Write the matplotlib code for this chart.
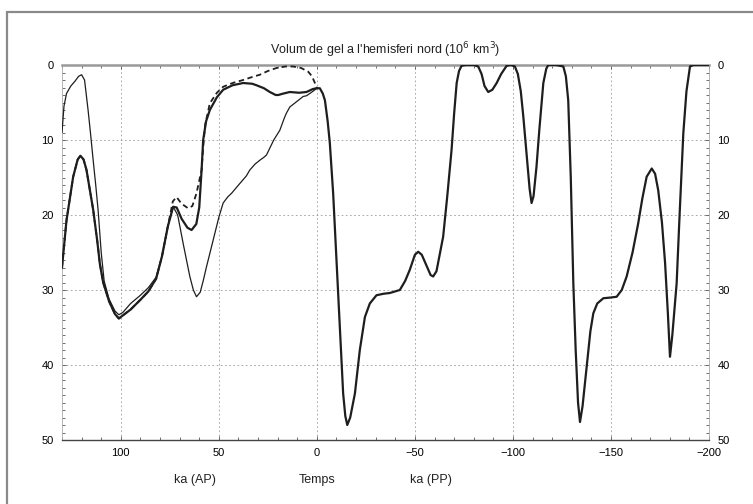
import matplotlib
matplotlib.use("Agg")
import matplotlib.pyplot as plt
from matplotlib.patches import Rectangle
from matplotlib.ticker import MultipleLocator

plt.rcParams['font.family'] = ['Liberation Sans Narrow', 'Liberation Sans', 'DejaVu Sans']

title = "Volum de gel a l'hemisferi nord (10$^6$ km$^3$)"
x_ticks = [100, 50, 0, -50, -100, -150, -200]
y_ticks = [0, 10, 20, 30, 40, 50]
extra_labels = ["ka (AP)", "Temps", "ka (PP)"]
extra_pos = [62, 0, -58]

# thick solid series (past + future), time in ka (positive = past)
thick_x = [130, 127.7, 124.3, 122, 120.6, 119, 117.5, 114.1, 112, 110.7, 109, 106, 103, 101, 99, 95, 90, 86, 82,
           79, 76, 73.3, 71.5, 69, 66, 63.9, 61.5, 60, 58.8, 58, 56.5, 54.6, 51, 47.8, 43, 37.6, 33, 30.8, 27,
           24, 21, 19.7, 17, 13.8, 9, 5.3, 2, 0,
           -1.5, -3, -4.1, -5.5, -6.6, -8.3, -10, -11.7, -13.4, -14.5, -15.5, -17, -19.4, -21.9, -24.5, -27,
           -30.4, -34, -37.2, -42.3, -45, -47.4, -50, -51.7, -53.5, -56, -58, -59.3, -61, -62.5, -64.4, -66.5,
           -68.7, -70, -71.3, -72.5, -73.8, -76, -80, -82.3, -84, -85.5, -87.4, -89.5, -91.7, -94, -96.8, -99,
           -101, -102.5, -104, -105.3, -107, -108.5, -109.5, -110.5, -112, -113.5, -115.5, -117, -118, -122,
           -125.7, -127, -128.2, -129.5, -130.8, -132, -133.2, -134.2, -135.5, -137.6, -139.5, -141, -143,
           -146.1, -150, -152.9, -155.5, -158, -161, -163.9, -166, -168.2, -170.8, -172.5, -174.1, -176,
           -177.6, -179, -180.1, -181.3, -183.5, -185, -186.9, -188.5, -190.3, -192, -200]
thick_y = [27, 20.7, 14.9, 12.6, 12.1, 12.6, 14, 19.3, 23.5, 26.5, 29, 31.5, 33.2, 33.8, 33.4, 32.6, 31.3, 30.2, 28.5,
           25.5, 21.5, 18.9, 19.0, 20.5, 21.7, 22, 21.2, 19, 14, 10, 7.5, 6, 4.3, 3.3, 2.7, 2.4, 2.5, 2.7, 3.1,
           3.6, 4.0, 4.0, 3.8, 3.6, 3.7, 3.6, 3.2, 3.1,
           3.1, 3.8, 4.7, 7.5, 10.4, 17.1, 26, 34.9, 43.8, 46.8, 48, 47, 43.8, 38, 33.6, 31.8,
           30.7, 30.5, 30.4, 30, 28.8, 27.3, 25.3, 24.9, 25.3, 26.8, 28, 28.2, 27.5, 25.5, 22.9, 17.5,
           11.3, 6.5, 2.4, 0.8, 0.1, 0, 0, 0.2, 1.2, 2.8, 3.6, 3.3, 2.4, 1.2, 0.1, 0,
           0.2, 1.2, 3.5, 6.9, 12, 16.5, 18.4, 17.5, 13.6, 8.5, 2.4, 0.5, 0, 0,
           0.2, 1.5, 4.7, 15, 29.1, 38, 45, 47.6, 45.5, 40.2, 35.5, 33.1, 31.8,
           31.1, 31, 30.9, 30, 28.2, 25, 21.1, 17.8, 14.9, 13.8, 14.5, 16.7, 21,
           26.4, 33, 38.9, 36, 29.1, 20, 9.1, 3.5, 0.2, 0, 0]

# dashed series (past only, diverges from thick after ~74 ka)
dashed_x = [130, 127.7, 124.3, 122, 120.6, 119, 117.5, 114.1, 112, 110.7, 109, 106, 103, 101, 99, 95, 90, 86, 82,
            79, 76, 73.5, 71.6, 69, 65.7, 63.5, 61.4, 58.8, 58, 57, 54.6, 51, 47.8, 43, 37.6, 33, 29.1, 25,
            20.6, 16, 12.1, 8, 4.4, 2.5, 1, 0]
dashed_y = [27, 20.7, 14.9, 12.6, 12.1, 12.6, 14, 19.3, 23.5, 26.5, 29, 31.5, 33.2, 33.8, 33.4, 32.6, 31.3, 30.2, 28.5,
            25.5, 21.5, 18.2, 17.6, 18.5, 19.1, 18.8, 17.1, 14, 11, 8, 5.1, 3.7, 2.9, 2.4, 2.0, 1.6, 1.3, 0.8,
            0.4, 0.2, 0.2, 0.4, 0.9, 1.5, 2.4, 3.1]

# thin solid series (past only)
thin_x = [130, 129, 127.7, 125.5, 123.5, 121.5, 120, 118.5, 116.7, 115.5, 114.1, 112.8, 111.6, 110, 108.5, 106,
          103, 101, 99, 95, 90, 86, 82, 79, 76, 73.3, 71, 68.2, 66.5, 64.8, 63, 61.4, 59.5, 58, 56.3, 54, 52,
          50, 47.8, 45.5, 43.5, 39.3, 36, 34.2, 31.5, 29.1, 27, 25.7, 22, 18.9, 16.5, 15.5, 13.8, 10.4, 7,
          5.3, 2.5, 0]
thin_y = [9, 5.5, 3.8, 2.8, 2.2, 1.5, 1.3, 2, 6, 9, 12.7, 16, 19.3, 25, 28.8, 31.2,
          32.8, 33.3, 33, 31.8, 30.7, 29.7, 28.3, 25.5, 21.5, 18.9, 20, 23.8, 26, 28.2, 30, 30.9, 30.3, 28.8, 26.9,
          24.5, 22.4, 20.3, 18.4, 17.6, 17.1, 15.8, 14.8, 14, 13.2, 12.7, 12.3, 12.0, 10, 8.7, 7, 6.4, 5.6, 4.9,
          4.2, 4.1, 3.6, 3.1]

fig = plt.figure(figsize=(7.53, 5.04), dpi=100)
fig.patch.set_facecolor('white')
# outer frame
fig.add_artist(Rectangle((7 / 753, -0.05), 1.2, 1 - 12 / 504 + 0.05, transform=fig.transFigure,
                         fill=False, edgecolor='#8a8a8a', lw=1.6))

ax = fig.add_axes([62 / 753, 1 - 440 / 504, (709 - 62) / 753, (440 - 65) / 504])
ink = '#1e1e1e'
ax.plot(thin_x, thin_y, color=ink, lw=0.9, zorder=3)
ax.plot(dashed_x, dashed_y, color=ink, lw=1.3, ls=(0, (3, 2)), zorder=3)
ax.plot(thick_x, thick_y, color=ink, lw=1.6, zorder=4)

ax.set_xlim(130, -200)
ax.set_ylim(50, 0)
ax.set_xticks(x_ticks)
ax.set_xticklabels([str(v).replace('-', '\u2212') for v in x_ticks])
ax.set_yticks(y_ticks)
ax.xaxis.set_minor_locator(MultipleLocator(10))
ax.yaxis.set_minor_locator(MultipleLocator(1))
ax.tick_params(axis='both', which='both', direction='in', top=True, right=True,
               labelright=True, labelsize=8, color='#555555', pad=6)
ax.tick_params(which='major', length=3, width=0.6)
ax.tick_params(which='minor', length=2, width=0.6)
ax.grid(True, which='major', color='#9a9a9a', ls=(0, (2, 3)), lw=0.6)

for s in ['left', 'right']:
    ax.spines[s].set_color('#aaaaaa')
    ax.spines[s].set_linewidth(0.6)
ax.spines['top'].set_color('#999999')
ax.spines['top'].set_linewidth(1.8)
ax.spines['bottom'].set_color('#444444')
ax.spines['bottom'].set_linewidth(1.0)

ax.set_title(title, fontsize=9, pad=8, color='#222222')
for lab, xp in zip(extra_labels, extra_pos):
    ax.text(xp, 1.0, lab, transform=ax.get_xaxis_transform(), ha='center', va='top', fontsize=9,
            color='#222222')
# place extra labels below tick labels
for t in ax.texts:
    t.set_y(-0.09)

fig.savefig('out.png', dpi=100)
